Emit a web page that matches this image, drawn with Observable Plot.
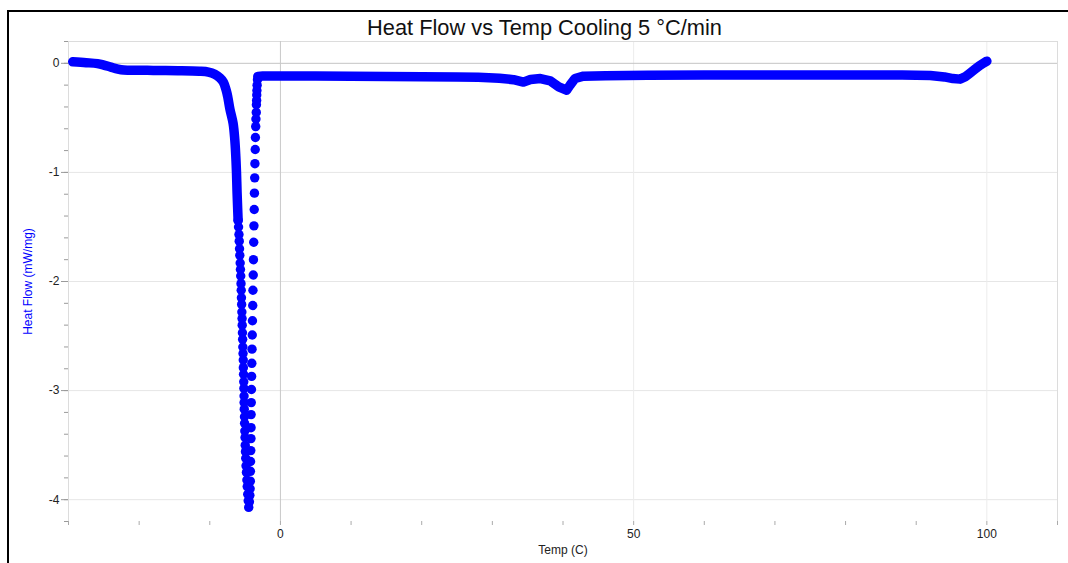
<!DOCTYPE html>
<html>
<head>
<meta charset="utf-8">
<script src="https://cdn.jsdelivr.net/npm/d3@7"></script>
<script src="https://cdn.jsdelivr.net/npm/@observablehq/plot@0.6"></script>
<style>
  html, body { margin: 0; padding: 0; background: #fff; }
  #wrap { position: relative; width: 1068px; height: 563px; overflow: hidden; font-family: "Liberation Sans", Arial, sans-serif; }
  #frame { position: absolute; left: 7px; top: 10px; width: 1065px; height: 560px; border-left: 2px solid #000; border-top: 2px solid #000; box-sizing: border-box; }
  #title { position: absolute; left: 544.5px; top: 17px; transform: translateX(-50%); white-space: nowrap; font-size: 21.8px; line-height: 22px; color: #111; }
  #chart { position: absolute; left: 0; top: 0; }
</style>
</head>
<body>
<div id="wrap">
  <div id="frame"></div>
  <div id="chart"></div>
  <div id="title">Heat Flow vs Temp Cooling 5 °C/min</div>
</div>
<script>
// DSC cooling scan at 5 °C/min: heat flow (mW/mg) against sample temperature (°C)

// Baseline from 100 °C down to the onset of freezing
const coolTemp = [100.0, 99.5, 99.0, 98.3, 97.6, 96.9, 96.2, 95.2, 94.0, 92.0, 88.0, 80.0, 70.0, 60.0, 52.0, 46.0, 42.9, 41.7, 41.0, 40.5, 39.4, 38.2, 36.8, 35.4, 34.4, 33.0, 31.0, 28.0, 25.0, 20.0, 15.0, 10.0, 5.0, 0.0, -2.5, -3.2];
const coolFlow = [0.02, 0.0, -0.02, -0.055, -0.09, -0.125, -0.145, -0.14, -0.125, -0.112, -0.108, -0.107, -0.107, -0.108, -0.11, -0.114, -0.118, -0.139, -0.2, -0.246, -0.215, -0.16, -0.14, -0.148, -0.172, -0.15, -0.137, -0.128, -0.125, -0.122, -0.12, -0.118, -0.117, -0.117, -0.117, -0.12];

// Crystallisation exotherm: fast drop (sparse samples)
const dropTemp = [-3.25, -3.30, -3.33, -3.35, -3.37, -3.40, -3.42, -3.47, -3.50, -3.54, -3.57, -3.61, -3.64, -3.68, -3.71, -3.75, -3.78, -3.82, -3.85, -3.89, -3.92, -3.96, -3.99, -4.02, -4.05, -4.08, -4.10, -4.13, -4.15, -4.16, -4.17, -4.20, -4.23, -4.25, -4.26, -4.29, -4.33, -4.39];
const dropFlow = [-0.15, -0.20, -0.25, -0.29, -0.34, -0.38, -0.45, -0.51, -0.58, -0.68, -0.79, -0.92, -1.05, -1.19, -1.34, -1.49, -1.64, -1.80, -1.94, -2.08, -2.22, -2.36, -2.49, -2.62, -2.75, -2.87, -2.99, -3.11, -3.22, -3.34, -3.44, -3.55, -3.65, -3.74, -3.83, -3.90, -3.96, -4.02];

// Recovery after the peak (denser samples)
const riseTemp = [-4.49, -4.56, -4.63, -4.70, -4.75, -4.81, -4.87, -4.91, -4.95, -4.98, -5.01, -5.04, -5.07, -5.09, -5.12, -5.14, -5.15, -5.17, -5.19, -5.22, -5.25, -5.26, -5.29, -5.32, -5.35, -5.38, -5.41, -5.43, -5.46, -5.49, -5.52, -5.55, -5.58, -5.62, -5.66, -5.70, -5.75, -5.79, -5.83, -5.87, -5.93, -5.99];
const riseFlow = [-4.07, -4.01, -3.95, -3.88, -3.82, -3.75, -3.69, -3.62, -3.56, -3.50, -3.43, -3.37, -3.30, -3.24, -3.17, -3.11, -3.05, -2.98, -2.92, -2.85, -2.79, -2.72, -2.66, -2.60, -2.53, -2.47, -2.40, -2.34, -2.28, -2.21, -2.15, -2.08, -2.02, -1.95, -1.89, -1.83, -1.76, -1.70, -1.63, -1.57, -1.50, -1.44];

// Return to baseline and the frozen tail down to -30 °C
const tailTemp = [-5.99, -6.06, -6.14, -6.22, -6.32, -6.46, -6.70, -7.15, -7.45, -7.68, -8.10, -8.55, -9.30, -10.20, -11.50, -14.50, -18.00, -21.00, -22.20, -23.00, -24.00, -25.00, -25.90, -27.50, -29.40];
const tailFlow = [-1.44, -1.32, -1.18, -1.00, -0.85, -0.70, -0.55, -0.42, -0.31, -0.246, -0.17, -0.135, -0.10, -0.08, -0.072, -0.067, -0.065, -0.063, -0.062, -0.053, -0.035, -0.016, -0.003, 0.006, 0.014];

// Axis ticks and labels
const xTicks = [0, 50, 100];
const xMinorTicks = [-30, -20, -10, 0, 10, 20, 30, 40, 50, 60, 70, 80, 90, 100, 110];
const yTicks = [0, -1, -2, -3, -4];
const yMinorTicks = [0.2, 0, -0.2, -0.4, -0.6, -0.8, -1, -1.2, -1.4, -1.6, -1.8, -2, -2.2, -2.4, -2.6, -2.8, -3, -3.2, -3.4, -3.6, -3.8, -4, -4.2];
const xLabel = "Temp (C)";
const yLabel = "Heat Flow (mW/mg)";

const toRows = (ts, hs) => ts.map((t, i) => ({temp: t, flow: hs[i]}));
const cool = toRows(coolTemp, coolFlow);
const drop = toRows(dropTemp, dropFlow);
const rise = toRows(riseTemp, riseFlow);
const tail = toRows(tailTemp, tailFlow);

const blue = "#0000ff";
const fontSize = 12;
const traceStyle = {x: "temp", y: "flow", stroke: blue, strokeWidth: 9.5, strokeLinecap: "round", strokeLinejoin: "round"};
const dotStyle = {x: "temp", y: "flow", r: 4.7, fill: blue, stroke: "none"};

const chart = Plot.plot({
  width: 1068,
  height: 563,
  marginLeft: 68,
  marginRight: 11,
  marginTop: 41,
  marginBottom: 42,
  style: {fontFamily: "'Liberation Sans', Arial, sans-serif", fontSize: "12px", background: "transparent", color: "#222"},
  x: {domain: [-30, 110], label: null},
  y: {domain: [-4.2, 0.2], label: null},
  marks: [
    // grid
    Plot.ruleY([-1, -2, -3, -4], {stroke: "#e6e6e6"}),
    Plot.ruleX([50, 100], {stroke: "#ececec"}),
    Plot.ruleY([0.2], {stroke: "#dcdcdc"}),
    Plot.ruleX([-30, 110], {stroke: "#dcdcdc"}),
    Plot.ruleY([0], {stroke: "#c4c4c4"}),
    Plot.ruleX([0], {stroke: "#c8c8c8"}),
    // axes
    Plot.axisY({ticks: yMinorTicks, tickSize: 4, stroke: "#9a9a9a", fill: "none", label: null}),
    Plot.axisY({ticks: yTicks, tickSize: 7, tickPadding: 2, stroke: "#9a9a9a", fill: "#222", fontSize, tickFormat: (d) => String(d), label: null}),
    Plot.axisX({ticks: xMinorTicks, tickSize: 4, stroke: "#aaaaaa", fill: "none", label: null}),
    Plot.axisX({ticks: xTicks, tickSize: 0, tickPadding: 8, fill: "#222", fontSize, tickFormat: (d) => String(d), label: null}),
    Plot.text([xLabel], {frameAnchor: "bottom", text: (d) => d, dy: 32, fill: "#222", fontSize}),
    Plot.text([yLabel], {frameAnchor: "left", text: (d) => d, rotate: -90, dx: -40, textAnchor: "middle", fill: blue, fontSize}),
    // data
    Plot.line(cool, traceStyle),
    Plot.line(tail, {...traceStyle, curve: "catmull-rom"}),
    Plot.dot(drop, dotStyle),
    Plot.dot(rise, dotStyle)
  ]
});

document.getElementById("chart").append(chart);
</script>
</body>
</html>
